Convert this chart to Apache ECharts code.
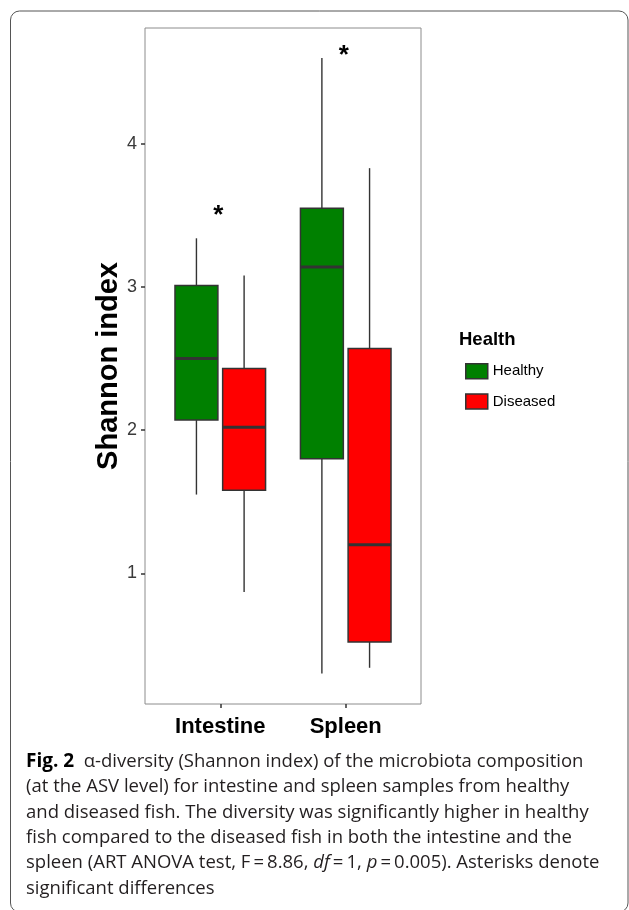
<!DOCTYPE html>
<html><head><meta charset="utf-8">
<script src="https://cdn.jsdelivr.net/npm/echarts@6/dist/echarts.min.js"></script>
<style>html,body{margin:0;padding:0;background:#fff}#c{width:629px;height:910px}</style>
</head><body><div id="c"></div>
<script>
// ---------- data ----------
const categories = ['Intestine', 'Spleen'];
const groups = ['Healthy', 'Diseased'];
// per category: [lower whisker, Q1, median, Q3, upper whisker]
const healthyStats  = [[1.55, 2.07, 2.50, 3.01, 3.34], [0.30, 1.80, 3.14, 3.55, 4.60]];
const diseasedStats = [[0.87, 1.58, 2.02, 2.43, 3.08], [0.34, 0.52, 1.20, 2.57, 3.83]];
const asteriskLabels = ['*', '*'];
const asteriskY = [3.54, 4.66];
const yTicks = [1, 2, 3, 4];
const xTicks = [1, 2];
const legendTitle = 'Health';
const yTitle = 'Shannon index';
const captionLines = [
  '{b|Fig. 2}  α-diversity (Shannon index) of the microbiota composition',
  '(at the ASV level) for intestine and spleen samples from healthy',
  'and diseased fish. The diversity was significantly higher in healthy',
  'fish compared to the diseased fish in both the intestine and the',
  'spleen (ART ANOVA test, F\u2009=\u20098.86, {i|df}\u2009=\u20091, {i|p}\u2009=\u20090.005). Asterisks denote',
  'significant differences'
];

// ---------- styling / layout ----------
const COLORS = { Healthy: '#008000', Diseased: '#ff0000' };
const DODGE = 0.19, HALF = 0.171;
const EDGE = '#333333';

function boxRenderer(offset, fill) {
  return function (params, api) {
    const x = api.value(0) + offset;
    const lo = api.coord([x, api.value(1)]);
    const q1 = api.coord([x, api.value(2)]);
    const md = api.coord([x, api.value(3)]);
    const q3 = api.coord([x, api.value(4)]);
    const hi = api.coord([x, api.value(5)]);
    const left = api.coord([x - HALF, api.value(3)])[0];
    const right = api.coord([x + HALF, api.value(3)])[0];
    return {
      type: 'group',
      children: [
        { type: 'line', shape: { x1: lo[0], y1: lo[1], x2: q1[0], y2: q1[1] }, style: { stroke: EDGE, lineWidth: 1.4 } },
        { type: 'line', shape: { x1: q3[0], y1: q3[1], x2: hi[0], y2: hi[1] }, style: { stroke: EDGE, lineWidth: 1.4 } },
        { type: 'rect', shape: { x: left, y: q3[1], width: right - left, height: q1[1] - q3[1] }, style: { fill: fill, stroke: EDGE, lineWidth: 1.5 } },
        { type: 'line', shape: { x1: left, y1: md[1], x2: right, y2: md[1] }, style: { stroke: EDGE, lineWidth: 3 } }
      ]
    };
  };
}

const chart = echarts.init(document.getElementById('c'), null, { renderer: 'canvas' });

const healthyData = categories.map((c, i) => [i + 1].concat(healthyStats[i]));
const diseasedData = categories.map((c, i) => [i + 1].concat(diseasedStats[i]));
const asteriskData = categories.map((c, i) => [i + 1, asteriskY[i], asteriskLabels[i]]);

const captionBaselines = [768, 793.3, 818.6, 843.9, 869.2, 894.5];
const CAP_FS = 18.5;
const captionGraphics = captionLines.map((t, i) => ({
  type: 'text', x: 26, y: captionBaselines[i] - 0.33 * CAP_FS,
  style: {
    text: t, fontFamily: 'Open Sans', fontSize: CAP_FS, fill: '#231f20', verticalAlign: 'middle',
    rich: {
      b: { fontFamily: 'Open Sans', fontSize: CAP_FS + 0.5, fontWeight: 'bold', fill: '#000' },
      i: { fontFamily: 'Open Sans', fontSize: CAP_FS, fontStyle: 'italic', fill: '#231f20' }
    }
  }
}));

chart.setOption({
  animation: false,
  backgroundColor: '#fff',
  textStyle: { fontFamily: 'Liberation Sans' },
  grid: { left: 145, right: 208, top: 28, bottom: 206, show: true, borderColor: '#8c8c8c', borderWidth: 1, containLabel: false },
  legend: {
    orient: 'vertical', left: 460, top: 358, itemWidth: 22, itemHeight: 15, itemGap: 13.7,
    icon: 'rect', data: groups,
    itemStyle: { borderColor: EDGE, borderWidth: 1.5 },
    textStyle: { fontSize: 15, color: '#000', fontFamily: 'Liberation Sans', lineHeight: 15 }
  },
  xAxis: {
    type: 'value', min: 0.4, max: 2.6,
    axisLine: { show: false },
    splitLine: { show: false },
    axisTick: { show: true, customValues: xTicks, length: 4, lineStyle: { color: EDGE, width: 1.5 } },
    axisLabel: {
      customValues: xTicks, margin: 12,
      formatter: v => categories[Math.round(v) - 1],
      fontSize: 22, fontWeight: 'bold', color: '#000', fontFamily: 'Liberation Sans'
    }
  },
  yAxis: {
    type: 'value', min: 0.087, max: 4.809,
    name: yTitle, nameLocation: 'middle', nameGap: 21, nameRotate: 90,
    nameTextStyle: { fontSize: 29, fontWeight: 'bold', color: '#000', fontFamily: 'Liberation Sans' },
    axisLine: { show: false },
    splitLine: { show: false },
    axisTick: { show: true, customValues: yTicks, length: 4, lineStyle: { color: EDGE, width: 1.5 } },
    axisLabel: { customValues: yTicks, margin: 8, fontSize: 18, color: '#3a3a3a', fontFamily: 'Liberation Sans' }
  },
  series: [
    { type: 'custom', name: 'Healthy', data: healthyData, itemStyle: { color: COLORS.Healthy },
      encode: { x: 0, y: [1, 2, 3, 4, 5] }, renderItem: boxRenderer(-DODGE, COLORS.Healthy) },
    { type: 'custom', name: 'Diseased', data: diseasedData, itemStyle: { color: COLORS.Diseased },
      encode: { x: 0, y: [1, 2, 3, 4, 5] }, renderItem: boxRenderer(DODGE, COLORS.Diseased) },
    { type: 'custom', name: 'sig', data: asteriskData, encode: { x: 0, y: 1 },
      renderItem: function (params, api) {
        const p = api.coord([api.value(0), api.value(1)]);
        return { type: 'text', x: p[0] - 2, y: p[1] + 6,
          style: { text: asteriskData[params.dataIndex][2], fontSize: 26, fontWeight: 'bold', fill: '#000',
                   fontFamily: 'Liberation Sans', align: 'center', verticalAlign: 'middle' } };
      } }
  ],
  graphic: [
    { type: 'rect', shape: { x: 10.5, y: 11, width: 617.5, height: 901, r: 9 },
      style: { fill: 'none', stroke: '#555', lineWidth: 1 }, silent: true },
    { type: 'text', x: 459, y: 346.7 - 0.35 * 18.5,
      style: { text: legendTitle, fontSize: 18.5, fontWeight: 'bold', fill: '#000', fontFamily: 'Liberation Sans', verticalAlign: 'middle' } }
  ].concat(captionGraphics)
});
</script></body></html>
